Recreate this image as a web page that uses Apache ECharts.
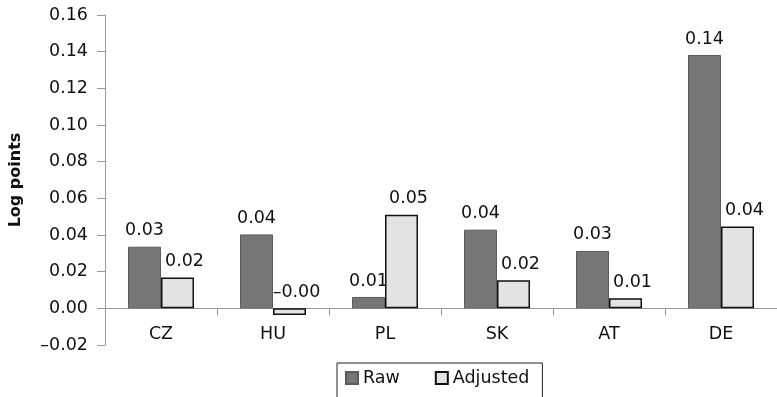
<!DOCTYPE html>
<html>
<head>
<meta charset="utf-8">
<style>
  html, body { margin: 0; padding: 0; background: #fff; }
  #chart { width: 777px; height: 397px; }
</style>
<script src="https://cdn.jsdelivr.net/npm/echarts@6/dist/echarts.min.js"></script>
</head>
<body>
<div id="chart"></div>
<script>
// Log-point gaps by country, before and after adjustment
const categories = ['CZ', 'HU', 'PL', 'SK', 'AT', 'DE'];
const rawValues = [0.0336, 0.0403, 0.0062, 0.0429, 0.0313, 0.1382];
const adjustedValues = [0.0168, -0.0037, 0.0511, 0.0153, 0.0055, 0.0447];
const seriesNames = ['Raw', 'Adjusted'];
const yTicks = { min: -0.02, max: 0.16, step: 0.02 };

const FONT = '"DejaVu Sans", "Liberation Sans", Arial, sans-serif';
const FS = 17.5;
// two decimals, negatives get an en dash (so -0.0037 reads "–0.00")
const fmt = v => (v < 0 ? '\u2013' : '') + Math.abs(v).toFixed(2);

const chart = echarts.init(document.getElementById('chart'), null, { renderer: 'canvas' });

const labelStyle = offsetX => ({
  show: true,
  position: 'top',
  distance: 7,
  offset: [offsetX, 0],
  color: '#111',
  fontFamily: FONT,
  fontSize: FS,
  formatter: p => fmt(p.value)
});

chart.setOption({
  animation: false,
  backgroundColor: '#fff',
  grid: { left: 104, right: 0, top: 15, bottom: 52, containLabel: false },
  legend: {
    data: seriesNames,
    left: 337,
    top: 363,
    orient: 'horizontal',
    icon: 'rect',
    itemWidth: 12,
    itemHeight: 12,
    itemGap: 35,
    padding: [6, 13, 20, 8],
    borderColor: '#222',
    borderWidth: 1,
    textStyle: { fontFamily: FONT, fontSize: FS, color: '#111' }
  },
  xAxis: {
    type: 'category',
    data: categories,
    axisLine: { onZero: true, lineStyle: { color: '#999', width: 1 } },
    axisTick: { show: true, interval: 0, alignWithLabel: false, length: 7, lineStyle: { color: '#999' } },
    axisLabel: { color: '#111', fontFamily: FONT, fontSize: FS, margin: -20 },
    splitLine: { show: false }
  },
  yAxis: {
    type: 'value',
    min: yTicks.min,
    max: yTicks.max,
    interval: yTicks.step,
    name: 'Log points',
    nameLocation: 'middle',
    nameGap: 81,
    nameRotate: 90,
    nameTextStyle: { fontFamily: FONT, fontSize: 16, fontWeight: 'bold', color: '#111' },
    axisLine: { show: true, lineStyle: { color: '#999', width: 1 } },
    axisTick: { show: true, length: 8, lineStyle: { color: '#999' } },
    axisLabel: { color: '#111', fontFamily: FONT, fontSize: FS, margin: 17, formatter: v => fmt(v) },
    splitLine: { show: false }
  },
  series: [
    {
      name: seriesNames[0],
      type: 'bar',
      data: rawValues,
      barWidth: 33,
      barGap: '0%',
      itemStyle: { color: '#767676', borderColor: '#5a5a5a', borderWidth: 1 },
      label: labelStyle(0)
    },
    {
      name: seriesNames[1],
      type: 'bar',
      data: adjustedValues,
      barWidth: 33,
      barGap: '0%',
      itemStyle: { color: '#e3e3e3', borderColor: '#111', borderWidth: 1.5 },
      label: labelStyle(7)
    }
  ]
});
</script>
</body>
</html>
